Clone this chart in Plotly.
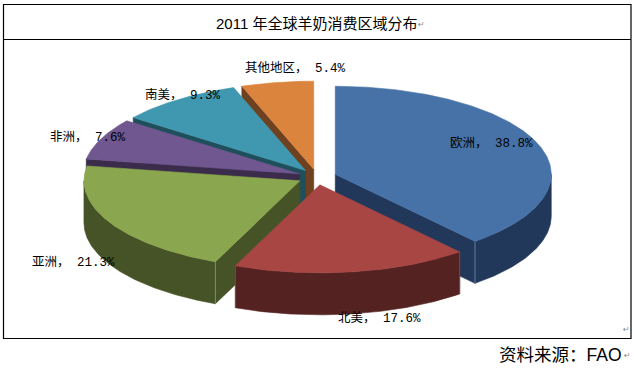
import math
import plotly.graph_objects as go

# Data
regions = ["欧洲", "北美", "亚洲", "非洲", "南美", "其他地区"]
shares = [38.8, 17.6, 21.3, 7.6, 9.3, 5.4]
title_text = "2011 年全球羊奶消费区域分布"
source_text = "资料来源：FAO"

# Styles
top_colors = ["#4672A8", "#A84644", "#8AA64E", "#70578F", "#3F98B0", "#DB843D"]
wall_colors = ["#22385A", "#552222", "#465326", "#3A2C4A", "#1F4F5B", "#6E4220"]
edge_colors = ["#5F7F9F", "#7A4A4A", "#7F8F6F", "#5A4A6A", "#3F6F7F", "#8A6A4A"]
label_xy = [(491, 143), (379, 318), (73, 262), (88, 137), (183, 95), (295, 68)]

# Projection of the pie in page pixels
CX, CY, RX, RY, DEPTH, EXPLODE = 317.0, 177.0, 216.0, 88.0, 42.0, 0.09


def pt(ax, ay, deg, r=1.0, dy=0.0):
    a = math.radians(deg)
    return ax + r * RX * math.sin(a), ay - r * RY * math.cos(a) + dy


def arc(ax, ay, a0, a1, dy=0.0):
    n = max(2, int(abs(a1 - a0) * 2))
    return [pt(ax, ay, a0 + (a1 - a0) * i / n, dy=dy) for i in range(n + 1)]


fig = go.Figure()


def poly(points, color, line=None):
    xs = [p[0] for p in points] + [points[0][0]]
    ys = [p[1] for p in points] + [points[0][1]]
    fig.add_trace(go.Scatter(x=xs, y=ys, mode="lines", fill="toself", fillcolor=color,
                             line=dict(color=line or color, width=0.6),
                             hoverinfo="skip", showlegend=False))


total = sum(shares)
slices = []
acc = 0.0
for i, v in enumerate(shares):
    a0 = acc / total * 360
    acc += v
    a1 = acc / total * 360
    slices.append((i, a0, a1, (a0 + a1) / 2))

for i, a0, a1, mid in sorted(slices, key=lambda s: -math.cos(math.radians(s[3]))):
    ax, ay = pt(CX, CY, mid, EXPLODE)
    wall = wall_colors[i]
    # radial side faces that turn towards the viewer
    if math.cos(math.radians(a0 - 90)) < -1e-6:
        e = pt(ax, ay, a0)
        poly([(ax, ay), e, (e[0], e[1] + DEPTH), (ax, ay + DEPTH)], wall)
    if math.cos(math.radians(a1 + 90)) < -1e-6:
        e = pt(ax, ay, a1)
        poly([(ax, ay), e, (e[0], e[1] + DEPTH), (ax, ay + DEPTH)], wall)
    # outer rim, front half only
    r0, r1 = max(a0, 90), min(a1, 270)
    if r1 > r0:
        poly(arc(ax, ay, r0, r1) + arc(ax, ay, r1, r0, DEPTH), wall)
    # corner highlights
    for ang in (a0, a1):
        if 90 < ang < 270:
            e = pt(ax, ay, ang)
            fig.add_trace(go.Scatter(x=[e[0], e[0]], y=[e[1], e[1] + DEPTH], mode="lines",
                                     line=dict(color=edge_colors[i], width=1),
                                     hoverinfo="skip", showlegend=False))
    # top face
    poly([(ax, ay)] + arc(ax, ay, a0, a1), top_colors[i])

MONO = "'Liberation Mono', 'Noto Sans CJK SC'"
SANS = "'Liberation Sans', 'Noto Sans CJK SC'"
ann = []
for name, v, (x, y) in zip(regions, shares, label_xy):
    ann.append(dict(x=x, y=y, text=f"{name}， {v}%", showarrow=False, xref="x", yref="y",
                    font=dict(family=MONO, size=12.5, color="#000000")))
ann.append(dict(x=316, y=23, text=title_text, showarrow=False,
                font=dict(family=SANS, size=15, color="#000000"), xref="x", yref="y"))
ann.append(dict(x=560.5, y=355, text=source_text, showarrow=False,
                font=dict(family=SANS, size=17.5, color="#000000"), xref="x", yref="y"))
for x, y in [(421, 24), (627, 355), (626, 329)]:
    ann.append(dict(x=x, y=y, text="↵", showarrow=False, xref="x", yref="y",
                    font=dict(family="DejaVu Sans", size=8, color="#888888")))

shapes = [
    dict(type="rect", x0=3.5, y0=4.5, x1=631, y1=338.5, xref="x", yref="y",
         line=dict(color="#000000", width=1.2), layer="above"),
    dict(type="line", x0=3.5, y0=39.5, x1=631, y1=39.5, xref="x", yref="y",
         line=dict(color="#000000", width=1.2), layer="above"),
]

fig.update_layout(
    width=634, height=369, margin=dict(l=0, r=0, t=0, b=0),
    paper_bgcolor="white", plot_bgcolor="white", showlegend=False,
    xaxis=dict(range=[0, 634], visible=False, fixedrange=True),
    yaxis=dict(range=[369, 0], visible=False, fixedrange=True),
    annotations=ann, shapes=shapes,
)
fig.write_html("out.html", config={"displayModeBar": False},
               post_script="document.body.style.margin='0';document.body.style.overflow='hidden';")
